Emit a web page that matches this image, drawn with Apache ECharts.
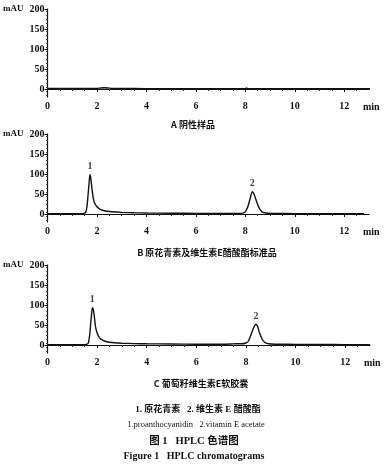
<!DOCTYPE html>
<html>
<head>
<meta charset="utf-8">
<script src="https://cdn.jsdelivr.net/npm/echarts@6/dist/echarts.min.js"></script>
<style>
html,body{margin:0;padding:0;background:#fff;}
#chart{width:389px;height:468px;}
</style>
</head>
<body>
<div id="chart"></div>
<script>
// ---- data ----
const xTicks = [0, 2, 4, 6, 8, 10, 12];
const yTicks = [0, 50, 100, 150, 200];

// Panel A: negative sample (time min, mAU)
const timeA = [0, 1.0, 2.0, 2.15, 2.3, 2.45, 2.6, 3.0, 4.0, 6.0, 8.0, 8.05, 8.1, 10.0, 12.0, 13.2];
const valA  = [1.5, 1.5, 1.5, 2.5, 3, 2.5, 1.5, 1.2, 1, 1, 1, 2.5, 1, 0.8, 0.6, 0.5];

// Panel B: standards
const timeB = [0, 1.0, 1.4, 1.5, 1.55, 1.6, 1.65, 1.7, 1.72, 1.75, 1.8, 1.85, 1.9, 2.0, 2.1, 2.2, 2.4, 2.6, 3.0, 3.5, 4.0, 5.0, 6.0, 7.0, 7.8, 7.9, 8.0, 8.1, 8.2, 8.28, 8.35, 8.45, 8.55, 8.65, 8.75, 8.9, 9.2, 10.0, 11.0, 12.0, 12.8];
const valB  = [1, 1, 1, 2, 5, 20, 55, 90, 98, 90, 62, 40, 28, 18, 13, 10, 7, 5.5, 4, 3, 2.5, 2, 1.5, 1.2, 1.2, 2, 6, 18, 40, 56, 50, 32, 16, 7, 3.5, 2, 1.5, 1, 0.8, 0.5, 0.5];

// Panel C: grape seed vitamin E soft capsule
const timeC = [0, 1.0, 1.5, 1.6, 1.65, 1.7, 1.75, 1.8, 1.83, 1.88, 1.93, 2.0, 2.1, 2.2, 2.3, 2.5, 2.7, 3.0, 3.5, 4.0, 5.0, 6.0, 7.0, 7.4, 7.6, 7.8, 8.0, 8.1, 8.2, 8.3, 8.4, 8.47, 8.55, 8.65, 8.75, 8.85, 9.0, 9.3, 10.0, 11.0, 12.0, 13.0];
const valC  = [1, 1, 1, 2, 6, 25, 60, 90, 93, 75, 48, 30, 18, 13, 10, 7, 5.5, 4.5, 3.5, 3, 2.5, 2, 2, 2.5, 3, 3, 5, 10, 25, 42, 52, 46, 30, 15, 7, 4, 2.5, 2, 1.5, 1.2, 1, 1];

const peaksB = [[1.72, 98, '1'], [8.28, 56, '2']];
const peaksC = [[1.8, 93, '1'], [8.4, 52, '2']];

const captions = ['A 阴性样品', 'B 原花青素及维生素E醋酸酯标准品', 'C 葡萄籽维生素E软胶囊'];

// ---- build ----
const zip = (t, v) => t.map((x, i) => [x, v[i]]);
const serif = '"Liberation Serif", "DejaVu Serif", serif';
const cjk = '"Noto Sans CJK SC", sans-serif';

const grids = [
  {left: 44, right: 20, top: 9, height: 88},
  {left: 45, right: 20, top: 134, height: 88},
  {left: 46, right: 19, top: 265, height: 88}
];

const xAxes = [], yAxes = [];
grids.forEach((g, i) => {
  xAxes.push({
    type: 'value', gridIndex: i, min: 0, max: 13, interval: 2,
    axisLine: {show: true, lineStyle: {color: '#111', width: 1.2}},
    axisTick: {show: true, length: 3, lineStyle: {color: '#111'}, customValues: xTicks},
    minorTick: {show: true, splitNumber: 4, length: 2, lineStyle: {color: '#333'}},
    axisLabel: {color: '#111', fontFamily: serif, fontWeight: 'bold', fontSize: 10, margin: 4, customValues: xTicks},
    splitLine: {show: false},
    name: 'min', nameLocation: 'end', nameGap: -6,
    nameTextStyle: {color: '#111', fontFamily: serif, fontWeight: 'bold', fontSize: 10, align: 'left', verticalAlign: 'top', padding: [13, 0, 0, 0]}
  });
  yAxes.push({
    type: 'value', gridIndex: i, min: -20, max: 200, interval: 10,
    axisLine: {show: true, lineStyle: {color: '#111', width: 1.2}},
    axisTick: {show: true, length: 3, lineStyle: {color: '#111'}, customValues: yTicks},
    minorTick: {show: true, splitNumber: 2, length: 1.5, lineStyle: {color: '#555'}},
    axisLabel: {color: '#111', fontFamily: serif, fontWeight: 'bold', fontSize: 10, margin: 3, customValues: yTicks},
    splitLine: {show: false},
    name: 'mAU', nameLocation: 'end', nameGap: 0,
    nameTextStyle: {color: '#111', fontFamily: serif, fontWeight: 'bold', fontSize: 9, align: 'right', verticalAlign: 'middle', padding: [0, 24, 0, 0]}
  });
});

const lineStyle = {color: '#111', width: 1.4};
const mkLine = (i, t, v) => ({
  type: 'line', xAxisIndex: i, yAxisIndex: i, data: zip(t, v),
  showSymbol: false, smooth: 0.2, lineStyle: lineStyle, clip: false, silent: true
});
const mkPeaks = (i, p) => ({
  type: 'scatter', xAxisIndex: i, yAxisIndex: i, symbolSize: 0, silent: true,
  data: p.map(d => ({value: [d[0], d[1]], name: d[2]})),
  label: {show: true, position: 'top', distance: 3, formatter: '{b}', color: '#111', fontFamily: serif, fontWeight: 'bold', fontSize: 10}
});

const texts = [
  {t: captions[0], x: 193, y: 125, f: cjk, s: 9, w: 'bold'},
  {t: captions[1], x: 207, y: 253, f: cjk, s: 9, w: 'bold'},
  {t: captions[2], x: 201, y: 384, f: cjk, s: 9, w: 'bold'},
  {t: '1. 原花青素   2. 维生素 E 醋酸酯', x: 198, y: 410, f: serif + ',' + cjk, s: 9, w: 'bold'},
  {t: '1.proanthocyanidin   2.vitamin E acetate', x: 196, y: 425, f: serif, s: 8.5, w: 'normal'},
  {t: '图 1   HPLC 色谱图', x: 194, y: 441, f: serif + ',' + cjk, s: 10.5, w: 'bold'},
  {t: 'Figure 1   HPLC chromatograms', x: 194, y: 456, f: serif, s: 10, w: 'bold'}
];

const chart = echarts.init(document.getElementById('chart'), null, {renderer: 'canvas'});
chart.setOption({
  backgroundColor: '#fff',
  animation: false,
  grid: grids,
  xAxis: xAxes,
  yAxis: yAxes,
  series: [
    mkLine(0, timeA, valA),
    mkLine(1, timeB, valB),
    mkLine(2, timeC, valC),
    mkPeaks(1, peaksB),
    mkPeaks(2, peaksC)
  ],
  graphic: texts.map(o => ({
    type: 'text', x: o.x, y: o.y,
    style: {text: o.t, fill: '#111', font: o.w + ' ' + o.s + 'px ' + o.f, align: 'center', verticalAlign: 'middle'}
  }))
});
</script>
</body>
</html>
